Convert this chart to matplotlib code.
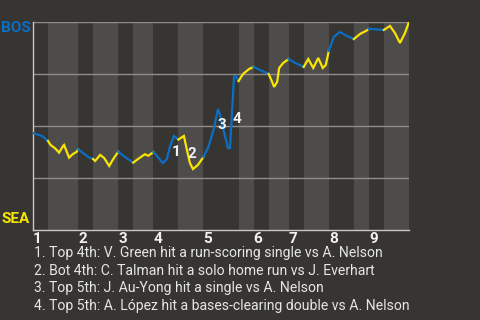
import matplotlib
matplotlib.use('Agg')
import numpy as np
import matplotlib.pyplot as plt

plt.rcParams['font.family'] = ['Roboto', 'DejaVu Sans']

# plate appearances in each half inning (top, bottom, top, bottom, ...)
half_lengths = [3, 6, 3, 5, 3, 4, 5, 5, 7, 3, 3, 4, 3, 5, 5, 3, 3, 5]
innings = ['1', '2', '3', '4', '5', '6', '7', '8', '9']

# game progress (plate appearances) and BOS win probability (%)
prog = [0, 1.8, 3,
        3.5, 4.4, 5.2, 6.0, 6.2, 7.2, 7.9, 8.7, 9,
        10.0, 11.0, 12,
        12.4, 13.4, 14.2, 15.2, 16.0, 17,
        18.7, 20,
        20.7, 22.3, 23.0, 23.7, 24,
        24.9, 25.9, 26.7, 27.3, 28.1, 29,
        30.1, 30.7, 31.3, 31.9, 32.9, 34,
        35.0, 36.1, 36.9, 37.3, 37.9, 38.9, 39.3, 39.7, 40.1, 40.5, 41,
        41.9, 43.1, 44,
        45.3, 47,
        47.7, 48.1, 48.7, 49.1, 49.9, 51,
        52.3, 54,
        54.9, 55.9, 56.9, 57.8, 58.4, 59,
        60.0, 61.2, 62.6, 64,
        65.2, 66.4, 67,
        67.8, 70,
        71.2, 72.2, 73.2, 74.2, 75]
bos_wp = [46.6, 45.2, 42.8,
          40.9, 39.3, 37.2, 40.4, 40.9, 34.8, 36.4, 37.6, 38.8,
          37.0, 35.1, 34.1,
          33.2, 36.1, 34.6, 30.8, 34.1, 37.6,
          34.5, 32.4,
          33.7, 36.4, 35.7, 36.9, 37.5,
          35.1, 32.2, 34.1, 39.9, 45.2, 43.5,
          45.2, 38.5, 32.2, 29.3, 31.3, 35.1,
          39.9, 49.0, 58.2, 55.3, 49.0, 39.4, 39.4, 56.7, 73.6, 74.0, 71.6,
          75.0, 77.4, 78.4,
          76.9, 75.0,
          71.2, 68.8, 71.2, 77.9, 80.3, 82.2,
          80.3, 78.4,
          82.2, 77.9, 82.7, 77.9, 79.3, 86.1,
          92.8, 95.2, 93.3, 91.8,
          94.2, 95.7, 96.6,
          96.6, 96.2,
          98.1, 94.7, 89.9, 94.7, 100]

# key plays: label, progress, win prob
key_labels = ['1', '2', '3', '4']
key_x = [28.6, 31.7, 37.7, 40.7]
key_y = [37.5, 36.3, 50.7, 53.4]
notes = ["1. Top 4th: V. Green hit a run-scoring single vs A. Nelson",
         "2. Bot 4th: C. Talman hit a solo home run vs J. Everhart",
         "3. Top 5th: J. Au-Yong hit a single vs A. Nelson",
         "4. Top 5th: A. López hit a bases-clearing double vs A. Nelson"]

bg = '#373531'
band = '#4d4c4a'
blue = '#0a6ec4'
yellow = '#fae500'

fig = plt.figure(figsize=(4.8, 3.2), dpi=100, facecolor=bg)
ax = fig.add_axes([33/480, 90/320, 376/480, 208/320])
ax.set_facecolor(bg)

edges = np.concatenate([[0], np.cumsum(half_lengths)])
x = np.array(prog)
y = np.array(bos_wp)
for i in range(len(half_lengths)):
    a, b = edges[i], edges[i+1]
    if i % 2 == 1:
        ax.axvspan(a, b, color=band, lw=0, zorder=0)
    m = (x >= a) & (x <= b)
    ax.plot(x[m], y[m], color=blue if i % 2 == 0 else yellow, lw=1.6,
            solid_joinstyle='miter', zorder=3)

for g in [25, 50, 75, 100]:
    ax.axhline(g, color='#8e8d8a', lw=1, zorder=1)

ax.set_xlim(0, edges[-1])
ax.set_ylim(0, 100)
for s in ['top', 'right']:
    ax.spines[s].set_visible(False)
for s in ['left', 'bottom']:
    ax.spines[s].set_color('#c9c8c5')
    ax.spines[s].set_linewidth(1)
ax.set_yticks([])
ax.set_xticks(edges[0:-1:2], innings)
ax.tick_params(axis='x', length=0, pad=1.5, colors='#f2f2f2')
for lab in ax.get_xticklabels():
    lab.set_horizontalalignment('left')
    lab.set_fontweight('bold')
    lab.set_fontsize(11)

for lab, kx, ky in zip(key_labels, key_x, key_y):
    ax.text(kx, ky, lab, color='#f2f2f2', fontsize=11, fontweight='bold',
            ha='center', va='center', zorder=4)

fig.text(31/480, 1 - 28/320, 'BOS', color=blue, fontsize=11, fontweight='bold',
         ha='right', va='center')
fig.text(29.5/480, 1 - 219/320, 'SEA', color=yellow, fontsize=11, fontweight='bold',
         ha='right', va='center')

for k, line in enumerate(notes):
    fig.text(34/480, 1 - (257 + 17.7*k)/320, line, color='#e6e6e6', fontsize=10.1,
             ha='left', va='baseline')

fig.savefig('out.png', dpi=100, facecolor=bg)
